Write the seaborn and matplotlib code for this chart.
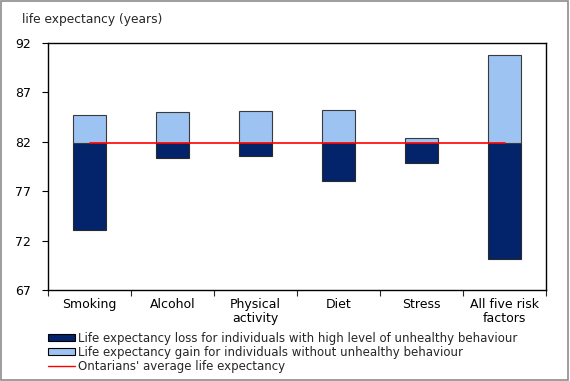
import matplotlib
matplotlib.use("Agg")
import matplotlib.pyplot as plt
import seaborn as sns
import pandas as pd
from matplotlib.patches import Patch, Rectangle
from matplotlib.lines import Line2D

categories = ["Smoking", "Alcohol", "Physical\nactivity", "Diet", "Stress", "All five risk\nfactors"]
average = 81.9
unhealthy = [73.1, 80.4, 80.6, 78.0, 79.9, 70.1]   # life expectancy with high unhealthy behaviour
healthy = [84.7, 85.0, 85.1, 85.2, 82.35, 90.8]    # life expectancy without unhealthy behaviour
avg_line = [81.9, 81.9, 81.9, 81.9, 81.9, 81.9]
yticks = [67, 72, 77, 82, 87, 92]

dark = "#03236A"
light = "#9DC3F2"

df = pd.DataFrame({
    "cat": categories,
    "loss": [u - average for u in unhealthy],
    "gain": [h - average for h in healthy],
    "avg": avg_line,
})

sns.set_theme(style="white")
plt.rcParams["font.family"] = ["DejaVu Sans"]

fig = plt.figure(figsize=(5.70, 3.81), dpi=100)
ax = fig.add_axes([48/570, 1 - 290/381, (546-48)/570, (290-43)/381])

sns.barplot(data=df, x="cat", y="loss", color=dark, bottom=average, width=0.39,
            edgecolor="#2a2a2a", linewidth=0.8, saturation=1, ax=ax)
sns.barplot(data=df, x="cat", y="gain", color=light, bottom=average, width=0.39,
            edgecolor="#3a3a3a", linewidth=0.8, saturation=1, ax=ax)
sns.lineplot(data=df, x="cat", y="avg", color="red", linewidth=1.2, ax=ax, sort=False)

ax.set_ylim(67, 92)
ax.set_xlim(-0.5, 5.5)
ax.set_yticks(yticks)
ax.set_yticklabels([str(t) for t in yticks], fontsize=9)
ax.set_xticks(range(len(categories)))
ax.set_xticklabels(categories, fontsize=9, linespacing=1.15)
ax.set_xlabel("")
ax.set_ylabel("")
for s in ax.spines.values():
    s.set_visible(True)
    s.set_color("black")
    s.set_linewidth(1.0)
ax.tick_params(axis="y", which="both", left=True, length=4, width=0.8, direction="out", pad=8, colors="black")
ax.tick_params(axis="x", which="major", bottom=True, length=0, pad=5.5, colors="black")
ax.set_xticks([-0.5, 0.5, 1.5, 2.5, 3.5, 4.5, 5.5], minor=True)
ax.tick_params(axis="x", which="minor", bottom=True, length=4, width=0.8, direction="out")
ax.grid(False)

fig.text(22/570, 1 - 20/381, "life expectancy (years)", fontsize=8.8, va="center", ha="left")

handles = [
    Patch(facecolor=dark, edgecolor="black", linewidth=0.8),
    Patch(facecolor=light, edgecolor="black", linewidth=0.8),
    Line2D([0], [0], color="red", linewidth=1.0),
]
labels = [
    "Life expectancy loss for individuals with high level of unhealthy behaviour",
    "Life expectancy gain for individuals without unhealthy behaviour",
    "Ontarians' average life expectancy",
]
fig.legend(handles, labels, loc="upper left", bbox_to_anchor=(48/570, 1 - 332/381),
           frameon=False, fontsize=8.5, handlelength=2.3, handleheight=0.5,
           handletextpad=0.2, labelspacing=0.08, borderpad=0, borderaxespad=0)

fig.patches.append(Rectangle((0.001, 0.002), 0.996, 0.995, transform=fig.transFigure,
                             fill=False, edgecolor="#8c8c8c", linewidth=1.2))

fig.savefig("out.png", dpi=100)
